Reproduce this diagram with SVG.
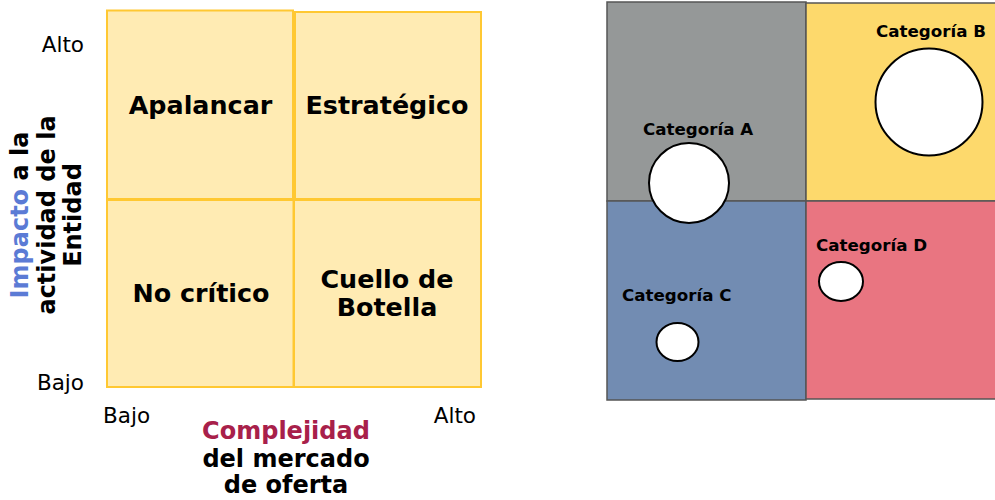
<svg xmlns="http://www.w3.org/2000/svg" width="995" height="500" viewBox="0 0 995 500">
<style>
.q{fill:#FFEBB3;stroke:#FFC832;stroke-width:2}
.ql{font-family:"DejaVu Sans",sans-serif;font-weight:bold;font-size:25.4px;fill:#000;text-anchor:middle}
.ax{font-family:"DejaVu Sans",sans-serif;font-size:21.5px;fill:#000}
.al{font-family:"DejaVu Sans",sans-serif;font-weight:bold;font-size:24px;fill:#000;text-anchor:middle}
.r{stroke:#555;stroke-width:1.5}
.c{fill:#fff;stroke:#000;stroke-width:2}
.cl{font-family:"DejaVu Sans",sans-serif;font-weight:bold;font-size:16.7px;fill:#000}
</style>
<g id="quad-apalancar"><rect class="q" x="107" y="10.5" width="186" height="188.5"/><text class="ql" x="200.5" y="114">Apalancar</text></g>
<g id="quad-estrategico"><rect class="q" x="295" y="12" width="186" height="187"/><text class="ql" x="387" y="114">Estratégico</text></g>
<g id="quad-nocritico"><rect class="q" x="107" y="200" width="186.5" height="187"/><text class="ql" x="201" y="302">No crítico</text></g>
<g id="quad-cuello"><rect class="q" x="294" y="200" width="187" height="187"/><text class="ql" x="387" y="288">Cuello de</text><text class="ql" x="387" y="316">Botella</text></g>
<g id="axis-labels">
<text class="ax" x="84" y="52" text-anchor="end">Alto</text>
<text class="ax" x="84" y="390" text-anchor="end">Bajo</text>
<text class="ax" x="103" y="423">Bajo</text>
<text class="ax" x="476" y="423" text-anchor="end">Alto</text>
<text class="al" x="286" y="439"><tspan fill="#A8204A">Complejidad</tspan></text>
<text class="al" x="286" y="466.5">del mercado</text>
<text class="al" x="286" y="493">de oferta</text>
<g transform="translate(0,215) rotate(-90)">
<text class="al" x="0" y="28"><tspan fill="#5B7BD5">Impacto</tspan> a la</text>
<text class="al" x="0" y="54.5">actividad de la</text>
<text class="al" x="0" y="81">Entidad</text>
</g>
</g>
<g id="panel-a"><rect class="r" x="607" y="2" width="199" height="199" fill="#959898"/></g>
<g id="panel-b"><rect class="r" x="806" y="3" width="190" height="198" fill="#FDD96C"/></g>
<g id="panel-c"><rect class="r" x="607" y="201" width="199" height="199" fill="#728CB2"/></g>
<g id="panel-d"><rect class="r" x="806" y="201" width="190" height="198" fill="#E97581"/></g>
<g id="cat-a"><circle class="c" cx="689" cy="183" r="40"/><text class="cl" x="643" y="135">Categoría A</text></g>
<g id="cat-b"><circle class="c" cx="929" cy="102" r="53.5"/><text class="cl" x="876" y="37">Categoría B</text></g>
<g id="cat-c"><ellipse class="c" cx="677.5" cy="342" rx="21" ry="19"/><text class="cl" x="622" y="301">Categoría C</text></g>
<g id="cat-d"><ellipse class="c" cx="841" cy="281.5" rx="22" ry="19.5"/><text class="cl" x="816" y="251">Categoría D</text></g>
<g id="connectors"/>
</svg>
